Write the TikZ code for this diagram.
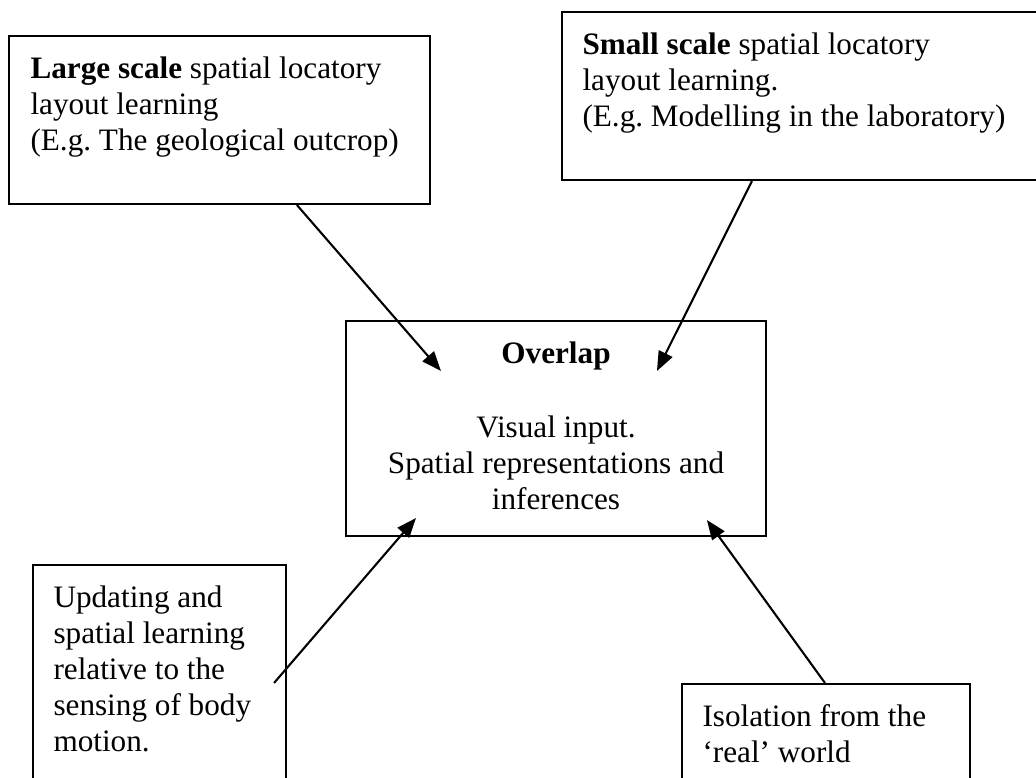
\documentclass[tikz,border=0pt]{standalone}
\usepackage{fontspec}
\setmainfont{Liberation Serif}
\usetikzlibrary{arrows.meta,calc,fit}
\frenchspacing

\begin{document}
\begin{tikzpicture}[x=0.384615pt,y=-0.384615pt,
  box/.style={draw, line width=0.8pt, rectangle, inner sep=0pt},
  txt/.style={inner sep=0pt, anchor=north west, align=left,
    font=\fontsize{12}{13.85}\selectfont},
  ctxt/.style={inner sep=0pt, anchor=north, align=center,
    font=\fontsize{12}{13.85}\selectfont},
  link/.style={line width=0.8pt, -{Triangle[length=7.5pt,width=5.8pt]}}]
\useasboundingbox (0,0) rectangle (1036,777);
\clip (0,0) rectangle (1036,777);

% frames
\node[box, fit={(9,36) (430,204)}] (tl) {};
\node[box, fit={(562,12) (1045,180)}] (tr) {};
\node[box, fit={(346,321) (766,536)}] (c) {};
\node[box, fit={(33,565) (286,800)}] (bl) {};
\node[box, fit={(682,684) (970,800)}] (br) {};

% texts (first baseline sits 25.2 units below the node top)
\node[txt] (tlT) at (30,52.8) {\strut\textbf{Large scale} spatial locatory\\layout learning\\(E.g. The geological outcrop)};
\node[txt] (trT) at (582,28.8) {\strut\textbf{Small scale} spatial locatory\\layout learning.\\(E.g. Modelling in the laboratory)};
\node[ctxt] (cT) at (556,337.8) {\strut\textbf{Overlap}\\[14.6pt]Visual input.\\Spatial representations and\\inferences};
\node[txt] (blT) at (53,581.8) {\strut Updating and\\spatial learning\\relative to the\\sensing of body\\motion.};
\node[txt] (brT) at (702,700.8) {\strut Isolation from the\\`real' world};

% connectors
\draw[link] ($(tl.south west)+(289,0)$) -- ($(c.north west)+(96,51)$);
\draw[link] ($(tr.south west)+(191,0)$) -- ($(c.north west)+(312,51)$);
\draw[link] ($(bl.north east)+(-13,119)$) -- ($(c.south west)+(71,-19)$);
\draw[link] ($(br.north west)+(144,0)$) -- ($(c.south west)+(362,-17)$);
\end{tikzpicture}
\end{document}
